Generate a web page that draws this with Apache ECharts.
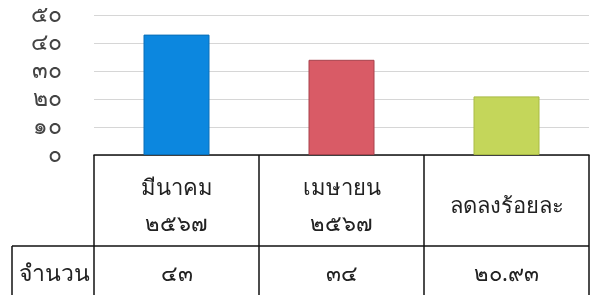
<!DOCTYPE html>
<html>
<head>
<meta charset="utf-8">
<script src="https://cdn.jsdelivr.net/npm/echarts@6/dist/echarts.min.js"></script>
<style>
    html, body { margin: 0; padding: 0; background: #fff; }
    #chart { width: 597px; height: 295px; }
</style>
</head>
<body>
<div id="chart"></div>
<script>
// ข้อมูล
const categories = ["มีนาคม", "เมษายน", "ลดลงร้อยละ"];
const headerLabels = ["มีนาคม\n๒๕๖๗", "เมษายน\n๒๕๖๗", "ลดลงร้อยละ"];
const values = [43, 34, 20.93];
const countLabels = ["๔๓", "๓๔", "๒๐.๙๓"];
const rowTitle = "จำนวน";
const yTickLabels = ["๐", "๑๐", "๒๐", "๓๐", "๔๐", "๕๐"];
const barColors = ["#0c87df", "#d95b66", "#c4d65a"];
const barBorders = ["#0a6fb8", "#a8434d", "#a9bb45"];

const FONT = "'Noto Sans', 'DejaVu Sans', sans-serif";
const chart = echarts.init(document.getElementById("chart"));

chart.setOption({
    animation: false,
    grid: { left: 94, right: 8, top: 15, bottom: 140, containLabel: false },
    xAxis: [
        {
            type: "category",
            data: categories,
            axisLine: { show: true, lineStyle: { color: "#111", width: 1.5 } },
            axisTick: { show: false },
            axisLabel: {
                formatter: (v, i) => headerLabels[i],
                margin: 52,
                verticalAlign: "middle",
                lineHeight: 36,
                fontSize: 22,
                color: "#222",
                fontFamily: FONT
            }
        },
        {
            type: "category",
            position: "bottom",
            data: categories,
            axisLine: { show: false },
            axisTick: { show: false },
            axisLabel: {
                formatter: (v, i) => countLabels[i],
                margin: 120,
                verticalAlign: "middle",
                fontSize: 22,
                color: "#222",
                fontFamily: FONT
            }
        }
    ],
    yAxis: {
        type: "value",
        min: 0,
        max: 50,
        interval: 10,
        axisLine: { show: false },
        axisTick: { show: false },
        splitLine: { lineStyle: { color: "#d6d6d6", width: 1 } },
        axisLabel: {
            formatter: (v) => yTickLabels[v / 10],
            margin: 32,
            fontSize: 23,
            color: "#444",
            fontFamily: FONT
        }
    },
    series: [
        {
            type: "bar",
            xAxisIndex: 0,
            data: values.map((v, i) => ({
                value: v,
                itemStyle: { color: barColors[i], borderColor: barBorders[i], borderWidth: 1 }
            })),
            barWidth: 66
        }
    ]
});

// เส้นตาราง
function drawTable() {
    const c0 = chart.convertToPixel({ xAxisIndex: 0 }, categories[0]);
    const c1 = chart.convertToPixel({ xAxisIndex: 0 }, categories[1]);
    const band = c1 - c0;
    const y0 = chart.convertToPixel({ yAxisIndex: 0 }, 0);
    const rowY = y0 + 91;
    const bottom = 300;
    const left = c0 - band / 2;
    const right = left + band * categories.length;
    const lineStyle = { stroke: "#111", lineWidth: 1.5 };
    const els = [];
    for (let i = 0; i <= categories.length; i++) {
        const x = Math.round(left + band * i);
        els.push({ type: "line", shape: { x1: x, y1: y0, x2: x, y2: bottom }, style: lineStyle });
    }
    els.push({ type: "line", shape: { x1: 12, y1: rowY, x2: right, y2: rowY }, style: lineStyle });
    els.push({ type: "line", shape: { x1: 12, y1: rowY, x2: 12, y2: bottom }, style: lineStyle });
    els.push({
        type: "text",
        x: (12 + left) / 2 + 1,
        y: y0 + 119,
        style: {
            text: rowTitle,
            font: "23px " + FONT,
            fill: "#222",
            align: "center",
            verticalAlign: "middle"
        }
    });
    chart.setOption({ graphic: els });
}
drawTable();
</script>
</body>
</html>
